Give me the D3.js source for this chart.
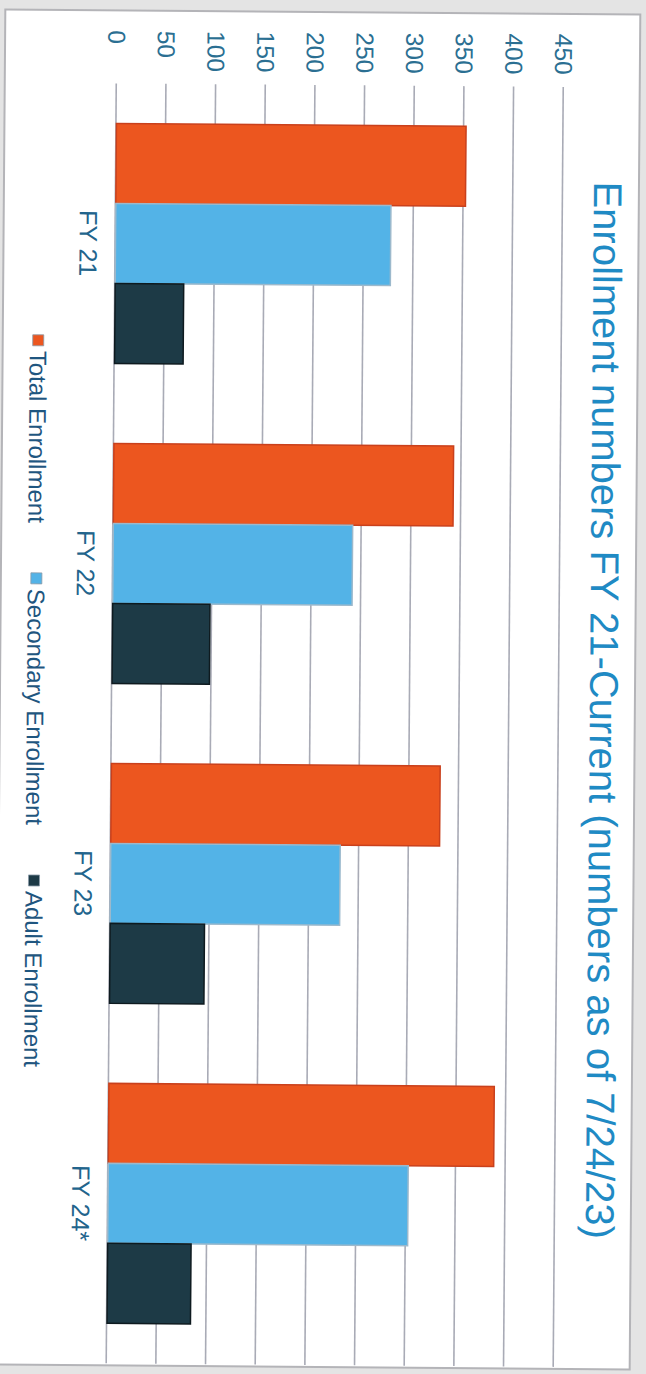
<!DOCTYPE html>
<html>
<head>
<meta charset="utf-8">
<script src="https://cdn.jsdelivr.net/npm/d3@7"></script>
<style>
  body { margin: 0; background: #e4e4e4; }
  svg { display: block; }
  text { font-family: "Liberation Sans", Arial, sans-serif; }
</style>
</head>
<body>
<div id="chart"></div>
<script>
// data
const categories = ['FY 21', 'FY 22', 'FY 23', 'FY 24*']
const seriesNames = ['Total Enrollment', 'Secondary Enrollment', 'Adult Enrollment']
const totalEnrollment = [352, 342, 331, 388]
const secondaryEnrollment = [277, 241, 231, 302]
const adultEnrollment = [69, 98, 95, 84]
const valueTicks = [0, 50, 100, 150, 200, 250, 300, 350, 400, 450]
const titleText = 'Enrollment numbers FY 21-Current (numbers as of 7/24/23)'

const seriesValues = [totalEnrollment, secondaryEnrollment, adultEnrollment]
const fills = ['#ec561f', '#53b3e7', '#1d3a46']
const strokes = ['#c9401c', '#9cb9cc', '#0e1a1f']

const pageW = 646, pageH = 1374
// the chart is drawn upright in a W x H frame, then turned (the scan is turned a bit past 90deg)
const W = 1355, H = 635
const cx = 317.5, cy = 689.5
const tilt = 0.45

const svg = d3.select('#chart').append('svg')
    .attr('width', pageW)
    .attr('height', pageH)

svg.append('rect')
    .attr('width', pageW)
    .attr('height', pageH)
    .attr('fill', '#e4e4e4')

const g = svg.append('g')
    .attr('transform', `translate(${cx},${cy}) rotate(${90 + tilt}) translate(${-W / 2},${-H / 2})`)

g.append('rect')
    .attr('width', W)
    .attr('height', H)
    .attr('fill', '#fff')
    .attr('stroke', '#b4b4b8')
    .attr('stroke-width', 2)

const x0 = d3.scaleBand()
    .domain(categories)
    .range([73, 1353])
    .paddingInner(0.25)
    .paddingOuter(0.125)

const x1 = d3.scaleBand()
    .domain(seriesNames)
    .range([0, x0.bandwidth()])

const y = d3.scaleLinear()
    .domain([0, 450])
    .range([523, 76])

// value axis + gridlines
const yAxis = g.append('g')
    .attr('class', 'y_axis')
    .attr('transform', 'translate(73,0)')
    .call(d3.axisLeft(y).tickValues(valueTicks).tickSize(-(1353 - 73)).tickSizeOuter(0))
yAxis.select('.domain').remove()
yAxis.selectAll('.tick line')
    .attr('stroke', '#a9abb6')
    .attr('stroke-width', 1.6)
yAxis.selectAll('.tick text')
    .attr('x', 20 - 73)
    .attr('dy', null)
    .attr('dominant-baseline', 'central')
    .attr('text-anchor', 'start')
    .attr('font-size', 24.5)
    .attr('fill', '#2b6f92')

// bars
const groups = g.append('g')
    .attr('class', 'bars_wrapper')
    .selectAll('g')
    .data(categories)
    .enter()
    .append('g')
    .attr('transform', d => `translate(${x0(d)},0)`)

groups.selectAll('rect')
    .data((d, i) => seriesNames.map((s, j) => ({ series: s, idx: j, value: seriesValues[j][i] })))
    .enter()
    .append('rect')
    .attr('x', d => x1(d.series))
    .attr('width', x1.bandwidth())
    .attr('y', d => y(d.value))
    .attr('height', d => y(0) - y(d.value))
    .attr('fill', d => fills[d.idx])
    .attr('stroke', d => strokes[d.idx])
    .attr('stroke-width', 1.5)

// category labels
const xAxis = g.append('g')
    .attr('class', 'x_axis')
    .attr('transform', 'translate(0,550)')
    .call(d3.axisBottom(x0).tickSize(0).tickPadding(0))
xAxis.select('.domain').remove()
xAxis.selectAll('.tick text')
    .attr('y', 0)
    .attr('dy', null)
    .attr('dominant-baseline', 'central')
    .attr('font-size', 25)
    .attr('fill', '#22648c')

// legend
const legend = g.append('g')
    .attr('class', 'legend_wrapper')
    .attr('transform', 'translate(0,599.5)')
let lx = 325
seriesNames.forEach((s, j) => {
    legend.append('rect')
        .attr('x', lx)
        .attr('y', -5.5)
        .attr('width', 11)
        .attr('height', 11)
        .attr('fill', fills[j])
        .attr('stroke', '#8a9aa8')
        .attr('stroke-width', 0.8)
    const t = legend.append('text')
        .attr('x', lx + 16)
        .attr('y', 0)
        .attr('dominant-baseline', 'central')
        .attr('font-size', 24)
        .attr('fill', '#1f5680')
        .text(s)
    lx += 16 + t.node().getComputedTextLength() + 50
})

// title
g.append('text')
    .attr('class', 'title')
    .attr('x', 696)
    .attr('y', 45)
    .attr('text-anchor', 'middle')
    .attr('font-size', 40)
    .attr('fill', '#1f8ac4')
    .text(titleText)
</script>
</body>
</html>
